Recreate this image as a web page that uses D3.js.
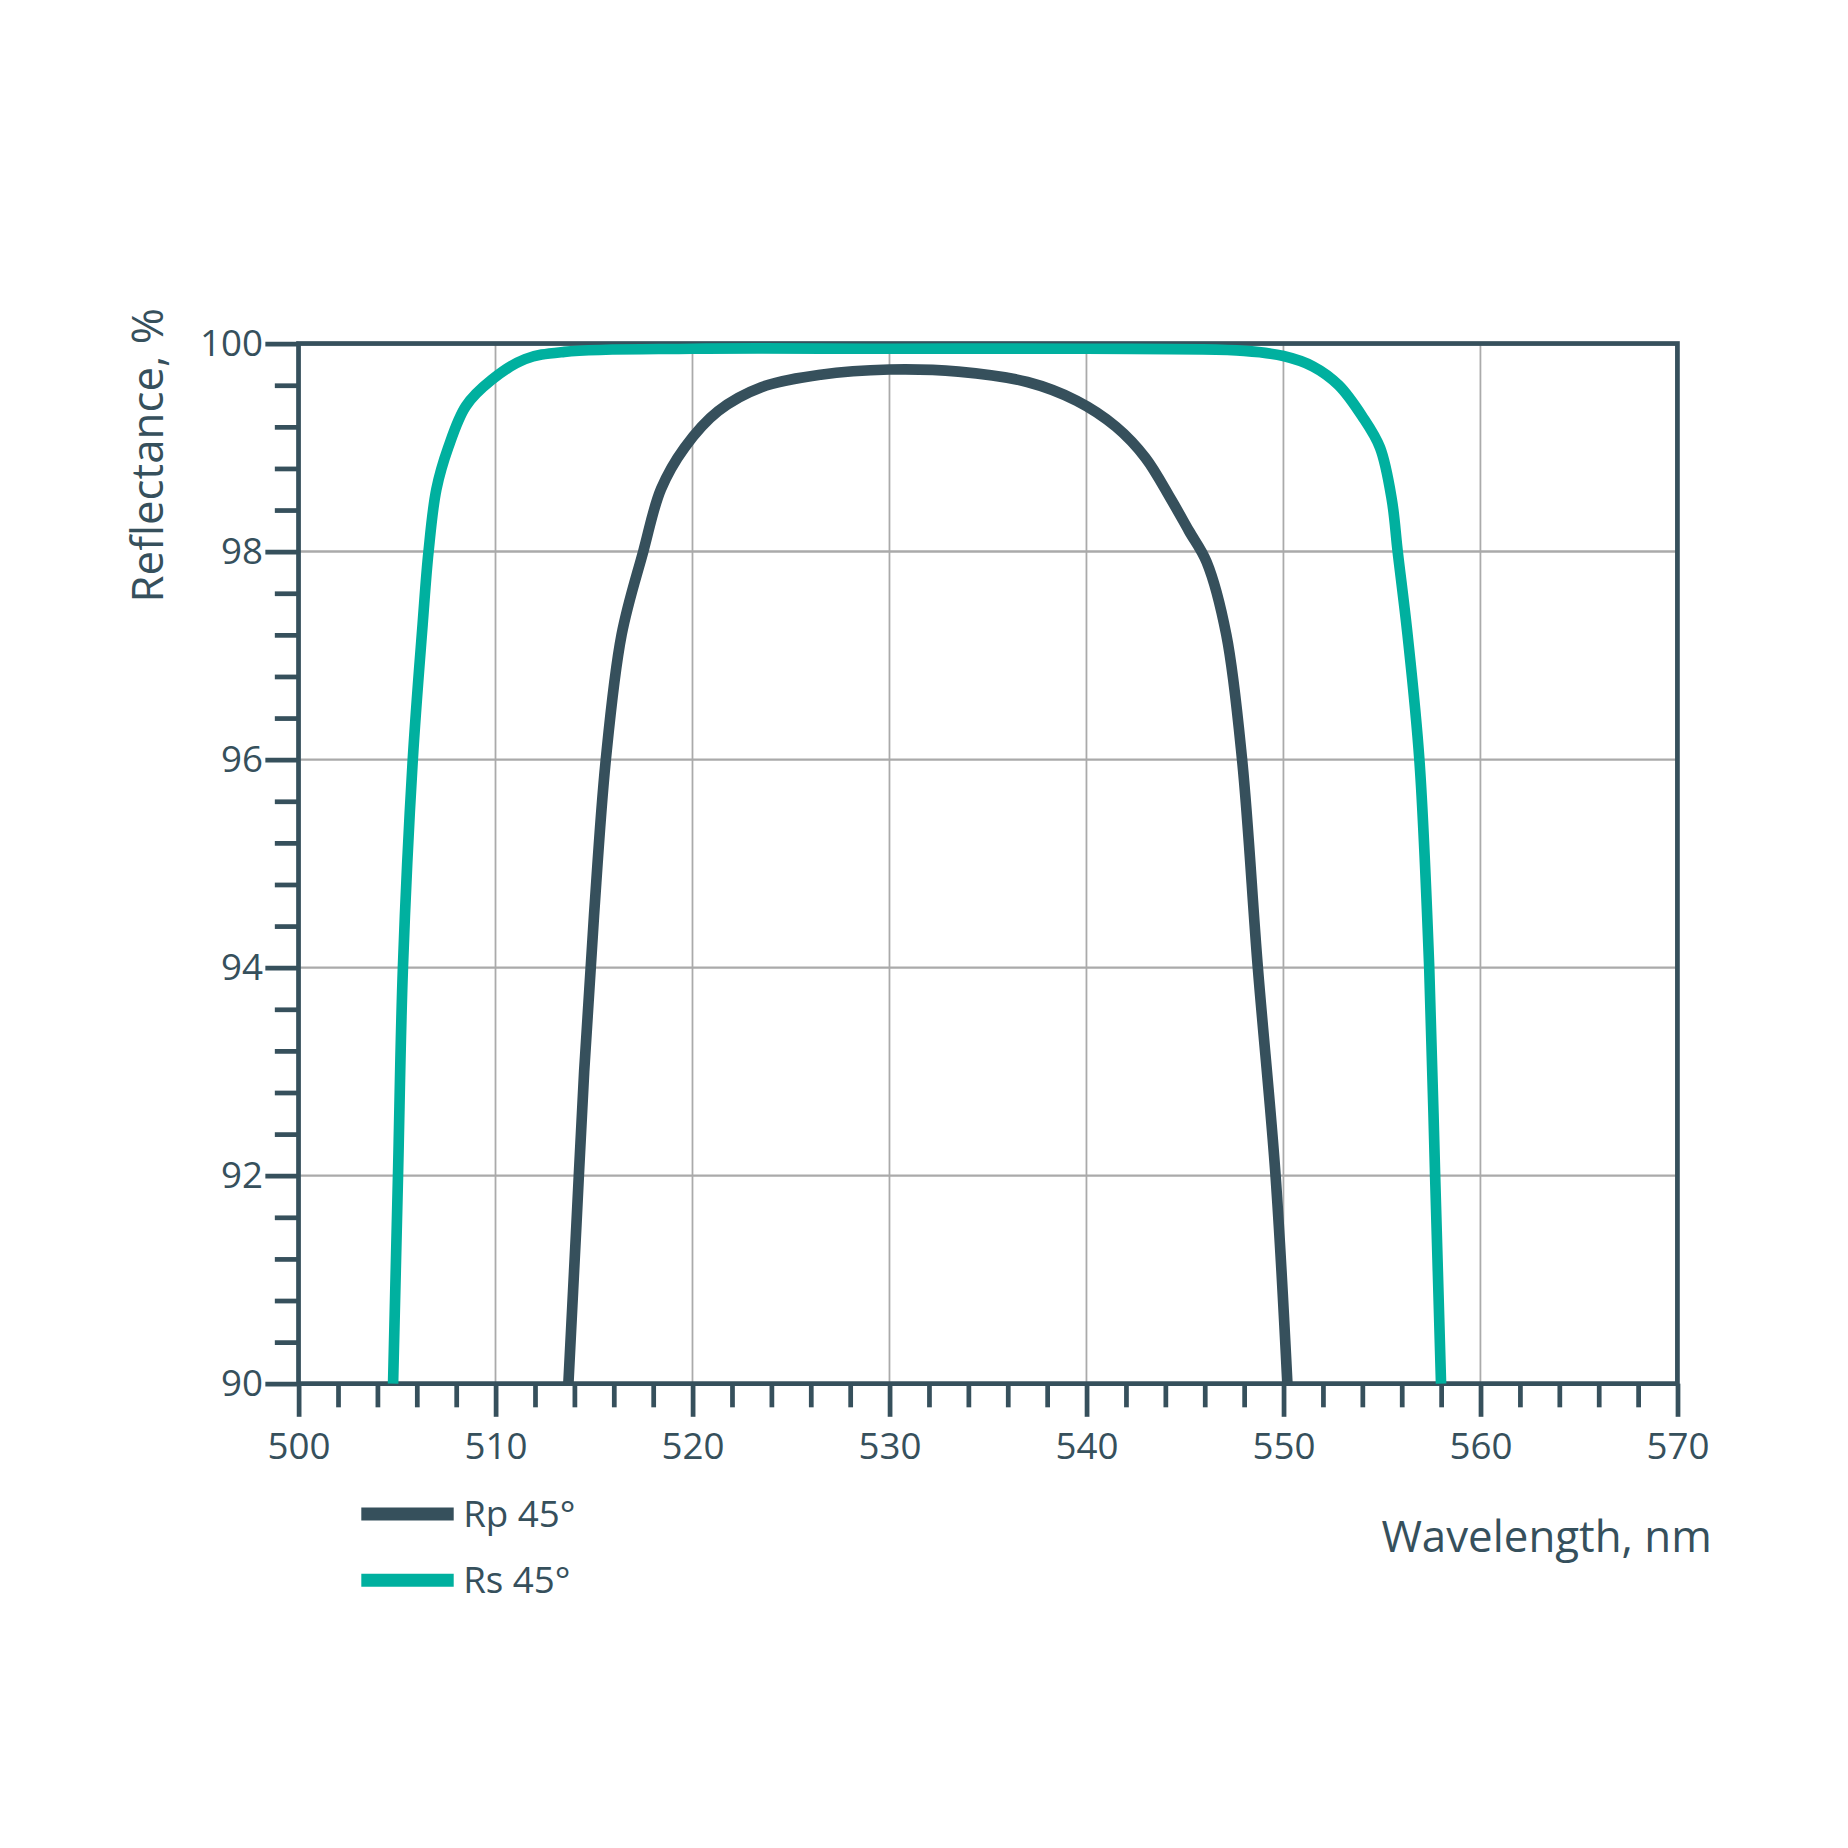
<!DOCTYPE html>
<html><head><meta charset="utf-8">
<script src="https://cdn.jsdelivr.net/npm/d3@7"></script>
<style>body{margin:0;background:#fff}text{font-family:"Open Sans",sans-serif;fill:#36505c}</style>
</head><body><div id="chart"></div>
<script>
/* Reflectance vs wavelength — Rp / Rs at 45 degrees. */
var rpWave = [513.7, 514.1, 514.5, 515.0, 515.6, 516.4, 517.5, 518.4, 519.6, 521.3, 523.5, 526.5, 530, 533.5, 537, 539.5, 541.5, 543, 544.3, 545.2, 546.1, 547.1, 547.9, 548.7, 549.6, 550.2];
var rpVal  = [90, 91.5, 93, 94.5, 96, 97.2, 98, 98.6, 99, 99.35, 99.58, 99.7, 99.75, 99.73, 99.63, 99.45, 99.2, 98.9, 98.5, 98.2, 97.9, 97.2, 96, 94, 92, 90];
var rsWave = [504.8, 505.05, 505.3, 505.8, 506.3, 506.6, 507.0, 507.6, 508.5, 509.8, 511.5, 513.5, 520, 530, 540, 548, 550, 551.5, 552.8, 554, 554.9, 555.5, 555.8, 556.3, 556.9, 557.4, 557.7, 558.0];
var rsVal  = [90, 92, 94, 96, 97.3, 98, 98.6, 99, 99.4, 99.65, 99.85, 99.92, 99.95, 99.95, 99.95, 99.93, 99.88, 99.78, 99.6, 99.3, 99, 98.5, 98, 97.2, 96, 94, 92, 90];
var xTicks = [500, 510, 520, 530, 540, 550, 560, 570];
var yTicks = [90, 92, 94, 96, 98, 100];
var seriesNames = ["Rp 45°", "Rs 45°"];
var seriesColors = ["#36505c", "#00b09f"];

var ink = "#36505c";
var svg = d3.select("#chart").append("svg")
  .attr("width", 1848).attr("height", 1848).attr("viewBox", "0 0 1560 1560");
var x = d3.scaleLinear().domain([500, 570]).range([252, 1416]);
var y = d3.scaleLinear().domain([90, 100]).range([1168, 290]);

// grid
svg.append("g").selectAll("line").data(xTicks.slice(1, -1)).join("line")
  .attr("x1", x).attr("x2", x).attr("y1", 290).attr("y2", 1168)
  .attr("stroke", "#aaa").attr("stroke-width", 1.5);
svg.append("g").selectAll("line").data(yTicks.slice(1, -1)).join("line")
  .attr("y1", y).attr("y2", y).attr("x1", 252).attr("x2", 1416)
  .attr("stroke", "#aaa").attr("stroke-width", 2);

// minor ticks
svg.append("g").attr("transform", "translate(0,1168)")
  .call(d3.axisBottom(x).tickValues(d3.range(502, 570, 2).filter(function (v) { return v % 10; }))
    .tickSize(20).tickFormat("")).call(function (g) { g.select(".domain").remove(); })
  .selectAll("line").attr("stroke", ink).attr("stroke-width", 4);
svg.append("g").attr("transform", "translate(252,0)")
  .call(d3.axisLeft(y).tickValues(d3.range(90.4, 100, 0.4).filter(function (v) { return Math.abs(v / 2 - Math.round(v / 2)) > 0.01; }))
    .tickSize(20).tickFormat("")).call(function (g) { g.select(".domain").remove(); })
  .selectAll("line").attr("stroke", ink).attr("stroke-width", 4);

// major ticks
var gx = svg.append("g").attr("transform", "translate(0,1168)")
  .call(d3.axisBottom(x).tickValues(xTicks).tickSize(28).tickPadding(14));
gx.select(".domain").remove();
gx.selectAll("line").attr("stroke", ink).attr("stroke-width", 4);
gx.selectAll("text").attr("font-size", 31).attr("fill", ink);
var gy = svg.append("g").attr("transform", "translate(252,0)")
  .call(d3.axisLeft(y).tickValues(yTicks).tickSize(28).tickPadding(2));
gy.select(".domain").remove();
gy.selectAll("line").attr("stroke", ink).attr("stroke-width", 4);
gy.selectAll("text").attr("font-size", 31).attr("fill", ink);

// frame
svg.append("rect").attr("x", 252).attr("y", 290).attr("width", 1164).attr("height", 878)
  .attr("fill", "none").attr("stroke", ink).attr("stroke-width", 4);

var line = d3.line().x(function (d) { return x(d[0]); }).y(function (d) { return y(d[1]); })
  .curve(d3.curveCatmullRom.alpha(0.5));
[[rpWave, rpVal], [rsWave, rsVal]].forEach(function (s, i) {
  svg.append("path").datum(d3.zip(s[0], s[1]))
    .attr("fill", "none").attr("stroke", seriesColors[i]).attr("stroke-width", 9)
    .attr("d", line);
});

// legend
seriesNames.forEach(function (n, i) {
  var ly = 1278 + i * 56;
  svg.append("line").attr("x1", 305).attr("x2", 383).attr("y1", ly).attr("y2", ly)
    .attr("stroke", seriesColors[i]).attr("stroke-width", 11);
  svg.append("text").attr("x", 391).attr("y", ly + 11).attr("font-size", 31).text(n);
});

svg.append("text").attr("x", 1445).attr("y", 1310).attr("text-anchor", "end")
  .attr("font-size", 37).text("Wavelength, nm");
svg.append("text").attr("transform", "translate(138,260) rotate(-90)").attr("text-anchor", "end")
  .attr("font-size", 37).text("Reflectance, %");
</script></body></html>
